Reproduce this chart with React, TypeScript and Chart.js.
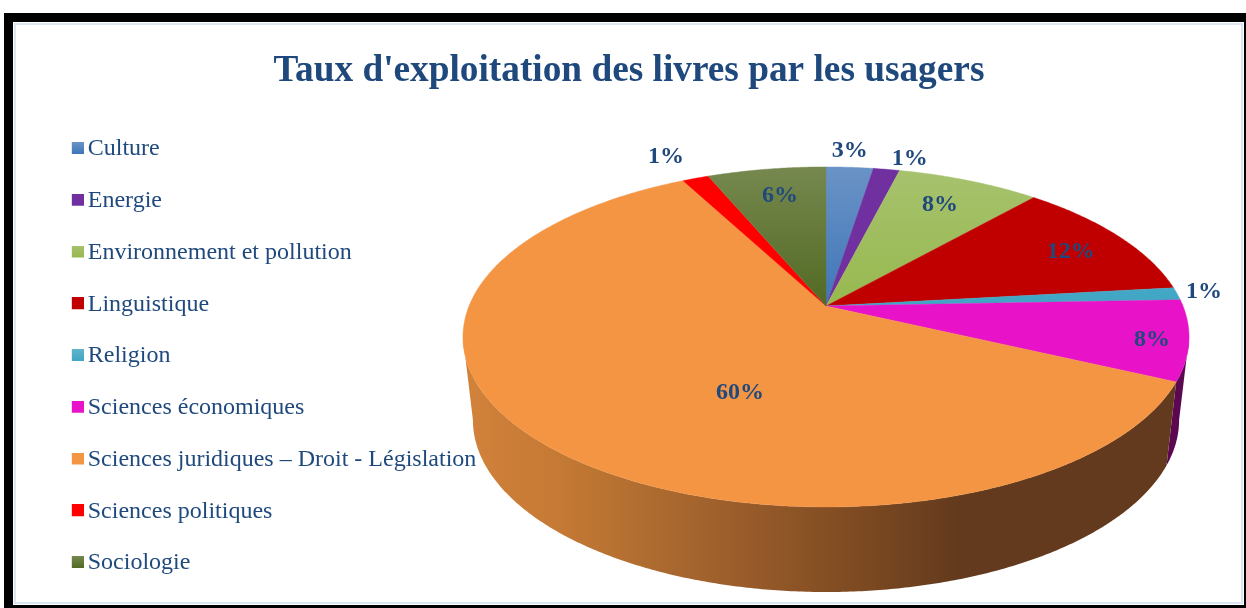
import React, { useEffect, useRef } from "react";
import { Chart, registerables } from "chart.js";

Chart.register(...registerables);

const TITLE = "Taux d'exploitation des livres par les usagers";
const categories = [
  "Culture",
  "Energie",
  "Environnement et pollution",
  "Linguistique",
  "Religion",
  "Sciences économiques",
  "Sciences juridiques – Droit - Législation",
  "Sciences politiques",
  "Sociologie",
];
const values = [2.5, 1.4, 7.6, 11.7, 1.2, 7.6, 60.3, 1.4, 6.3];

// Styling of the slices: top-of-gradient and bottom-of-gradient colours
const topLight = ["#6A93C6", "#7030A0", "#A7C26E", "#C00000", "#62B4CC", "#E813C8", "#F49544", "#FF0000", "#76884F"];
const topDark = ["#3F76B8", "#7030A0", "#97B94F", "#C00000", "#3FA6C4", "#E813C8", "#F49544", "#FF0000", "#526A23"];
const wallColors = ["#2A4F7C", "#3C1A56", "#5B7030", "#660000", "#27677A", "#5C0850", "#633A1D", "#880000", "#33421A"];
// Label placement, relative to each slice: distance from the apex (1 = rim) and turn in degrees
const labelRadius = [1.16, 1.121, 0.794, 0.817, 1.083, 0.902, 0.521, 1.227, 0.791];
const labelTurn = [-0.5, 3, -0.7, 1, -1, 0.5, -18.7, -0.8, 0.6];

const INK = "#1F497D";
const SERIF = "'Liberation Serif', serif";
const K = 0.182;
const TOP = { cx: 826, cy: 306, a: 357, b: 164.4 };
const BASE = { cx: 826, cy: 388.7, a: 347.2, b: 166.3 };
const FRONT_FROM = (100.5 * Math.PI) / 180;
const FRONT_TO = (259.5 * Math.PI) / 180;
const STEP = Math.PI / 360;
const LEGEND_DX = 36;
const LEGEND_DY = 27.5;
const LABEL_DY = 2;

type Model = typeof TOP;
function project(m: Model, clock: number, r = 1): [number, number] {
  const x = r * Math.sin(clock);
  const y = -r * Math.cos(clock);
  const w = 1 - K * y;
  return [m.cx + (m.a * x) / w, m.cy + (m.b * y) / w];
}
function samples(from: number, to: number): number[] {
  const out: number[] = [];
  for (let t = from; t < to; t += STEP) out.push(t);
  out.push(to);
  return out;
}

const pie3d = {
  id: "pie3d",
  afterLayout(chart: any) {
    const l = chart.legend;
    l.left += LEGEND_DX;
    l.right += LEGEND_DX;
    l.top += LEGEND_DY;
    l.bottom += LEGEND_DY;
  },
  beforeDatasetDraw() {
    return false;
  },
  afterDatasetsDraw(chart: any) {
    const ctx: CanvasRenderingContext2D = chart.ctx;
    const arcs = chart.getDatasetMeta(0).data;
    ctx.save();
    // wall
    arcs.forEach((arc: any, i: number) => {
      const s = Math.max(arc.startAngle + Math.PI / 2, FRONT_FROM);
      const e = Math.min(arc.endAngle + Math.PI / 2, FRONT_TO);
      if (e <= s) return;
      const pts = samples(s, e);
      ctx.beginPath();
      pts.forEach((t, n) => {
        const [x, y] = project(TOP, t);
        n ? ctx.lineTo(x, y) : ctx.moveTo(x, y);
      });
      [...pts].reverse().forEach((t) => {
        const [x, y] = project(BASE, t);
        ctx.lineTo(x, y);
      });
      ctx.closePath();
      if (e - s > 1) {
        const g = ctx.createLinearGradient(463, 0, 960, 0);
        g.addColorStop(0, "#D2823B");
        g.addColorStop(0.2, "#C47934");
        g.addColorStop(0.36, "#B06D30");
        g.addColorStop(0.54, "#9C5E2B");
        g.addColorStop(0.78, "#7F4B22");
        g.addColorStop(1, wallColors[i]);
        ctx.fillStyle = g;
      } else {
        ctx.fillStyle = wallColors[i];
      }
      ctx.fill();
    });
    // top
    arcs.forEach((arc: any, i: number) => {
      const s = arc.startAngle + Math.PI / 2;
      const e = arc.endAngle + Math.PI / 2;
      const g = ctx.createLinearGradient(0, 167, 0, 306);
      g.addColorStop(0, topLight[i]);
      g.addColorStop(1, topDark[i]);
      ctx.beginPath();
      ctx.moveTo(TOP.cx, TOP.cy);
      samples(s, e).forEach((t) => {
        const [x, y] = project(TOP, t);
        ctx.lineTo(x, y);
      });
      ctx.closePath();
      ctx.fillStyle = g;
      ctx.strokeStyle = g;
      ctx.lineWidth = 0.4;
      ctx.fill();
      ctx.stroke();
    });
    // labels
    ctx.fillStyle = INK;
    ctx.font = `bold 24px ${SERIF}`;
    ctx.textAlign = "center";
    ctx.textBaseline = "middle";
    arcs.forEach((arc: any, i: number) => {
      const mid = (arc.startAngle + arc.endAngle) / 2 + Math.PI / 2;
      const [x, y] = project(TOP, mid + (labelTurn[i] * Math.PI) / 180, labelRadius[i]);
      ctx.fillText(`${Math.round(values[i])}%`, x, y + LABEL_DY);
    });
    ctx.restore();
  },
};

function swatch(i: number): HTMLCanvasElement {
  const c = document.createElement("canvas");
  c.width = 16;
  c.height = 14;
  const x = c.getContext("2d")!;
  const g = x.createLinearGradient(0, 0, 0, 12);
  g.addColorStop(0, topLight[i]);
  g.addColorStop(1, topDark[i]);
  x.fillStyle = g;
  x.fillRect(4, 0, 12, 12);
  return c;
}

export default function App() {
  const ref = useRef<HTMLCanvasElement>(null);
  useEffect(() => {
    const ctx = ref.current!.getContext("2d") as any;
    ctx.textRendering = "geometricPrecision";
    const chart = new Chart(ref.current!, {
      type: "pie",
      data: {
        labels: categories,
        datasets: [{ data: values, backgroundColor: topDark, borderWidth: 0 }],
      },
      options: {
        responsive: false,
        animation: false,
        layout: { padding: { left: 12, top: 49, right: 0, bottom: 0 } },
        plugins: {
          tooltip: { enabled: false },
          title: {
            display: true,
            text: TITLE,
            color: INK,
            font: { family: SERIF, size: 37.3, weight: "bold" },
            padding: { top: 0, bottom: 1 },
          },
          legend: {
            display: true,
            position: "left",
            align: "center",
            labels: {
              color: INK,
              font: { family: SERIF, size: 24 },
              usePointStyle: true,
              boxWidth: 0.01,
              padding: 27.75,
              generateLabels: () =>
                categories.map((text, i) => ({
                  text,
                  fontColor: INK,
                  pointStyle: swatch(i),
                  lineWidth: 0,
                  strokeStyle: "transparent",
                  fillStyle: topDark[i],
                  index: i,
                  hidden: false,
                })),
            },
          },
        },
      } as any,
      plugins: [pie3d],
    });
    return () => chart.destroy();
  }, []);
  return (
    <div style={{ position: "fixed", left: 0, top: 0, width: 1246, height: 608, background: "#fff", overflow: "hidden" }}>
      <div style={{ position: "absolute", left: 4, top: 13, width: 1242, height: 595, background: "#000" }} />
      <div style={{ position: "absolute", left: 13, top: 22, width: 1231, height: 583, background: "#fff" }} />
      <div style={{ position: "absolute", left: 14, top: 23, width: 1225, height: 577, border: "2px solid #DCE6F2", background: "#fff" }} />
      <canvas ref={ref} width={1246} height={608} style={{ position: "absolute", left: 0, top: 0, width: 1246, height: 608 }} />
    </div>
  );
}
